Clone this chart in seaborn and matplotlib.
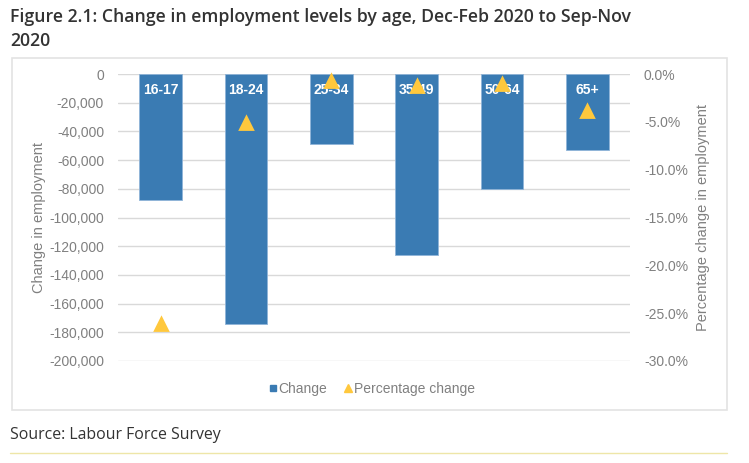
import matplotlib
matplotlib.use("Agg")
import matplotlib.pyplot as plt
import matplotlib.ticker as mticker
from matplotlib.lines import Line2D
from matplotlib.patches import Rectangle
import seaborn as sns
import pandas as pd

# ---- data ----
age_groups = ["16-17", "18-24", "25-34", "35-49", "50-64", "65+"]
change = [-88000, -174000, -49000, -126000, -80000, -53000]
pct_change = [-26.1, -5.1, -0.7, -1.3, -1.0, -3.9]
left_ticks = [0, -20000, -40000, -60000, -80000, -100000, -120000,
              -140000, -160000, -180000, -200000]
right_ticks = [0, -5, -10, -15, -20, -25, -30]

df = pd.DataFrame({"age": age_groups, "change": change, "pct": pct_change})

BLUE = "#3A7BB3"
YELLOW = "#FFC83D"
GRAY = "#808080"
GRID = "#D9D9D9"

sns.set_theme(style="white")
plt.rcParams["font.family"] = ["Liberation Sans", "DejaVu Sans"]

W, H = 749, 463
fig = plt.figure(figsize=(W / 100, H / 100), dpi=100)

# chart frame
fig.patches.append(Rectangle((12 / W, 1 - 410 / H), (727 - 12) / W, (410 - 58) / H,
                             transform=fig.transFigure, fill=False,
                             edgecolor="#E3E3E3", linewidth=1.2))
# bottom decorative line
fig.add_artist(Line2D([10 / W, 727 / W], [1 - 453 / H, 1 - 453 / H],
                      transform=fig.transFigure, color="#EEE6A8", linewidth=1))

ax = fig.add_axes([118 / W, 1 - 361 / H, (630 - 118) / W, (361 - 74) / H])
sns.barplot(data=df, x="age", y="change", color=BLUE, width=0.5, ax=ax,
            edgecolor="#8FB4D8", linewidth=0.6, saturation=1)
ax.set_ylim(-200000, 0)
ax.set_xlim(-0.5, len(age_groups) - 0.5)
ax.set_yticks(left_ticks)
ax.yaxis.set_major_formatter(mticker.FuncFormatter(
    lambda v, p: "0" if v == 0 else "-{:,.0f}".format(abs(v))))
ax.set_axisbelow(True)
ax.grid(axis="y", color=GRID, linewidth=1)
ax.set_xticks([])
ax.set_xlabel("")
ax.set_ylabel("Change in employment", color=GRAY, fontsize=10.5, labelpad=2)
ax.tick_params(axis="y", colors=GRAY, labelsize=10, length=0, pad=10)
for s in ax.spines.values():
    s.set_visible(False)

# category labels inside top of bars
for i, lab in enumerate(age_groups):
    ax.annotate(lab, xy=(i, 0), xytext=(0, -6.5), textcoords="offset points",
                ha="center", va="top", color="white", fontsize=10,
                fontweight="bold")

ax2 = ax.twinx()
sns.pointplot(data=df, x="age", y="pct", ax=ax2, color=YELLOW, markers="^",
              linestyle="none", errorbar=None, markersize=8)
for coll in ax2.lines + ax2.collections:
    coll.set_clip_on(False)
ax2.set_ylim(-30, 0)
ax2.set_xlim(-0.5, len(age_groups) - 0.5)
ax2.set_yticks(right_ticks)
ax2.yaxis.set_major_formatter(mticker.FuncFormatter(
    lambda v, p: "0.0%" if v == 0 else "-{:.1f}%".format(abs(v))))
ax2.tick_params(axis="y", colors=GRAY, labelsize=10, length=0, pad=10)
ax2.set_ylabel("Percentage change in employment", color=GRAY, fontsize=10.5,
               labelpad=6)
ax2.set_xlabel("")
ax2.set_xticks([])
ax2.grid(False)
for s in ax2.spines.values():
    s.set_visible(False)

# legend
handles = [
    Line2D([], [], marker="s", color=BLUE, linestyle="none", markersize=5),
    Line2D([], [], marker="^", color=YELLOW, linestyle="none", markersize=5.5),
]
leg = fig.legend(handles, ["Change", "Percentage change"], loc="center",
                 bbox_to_anchor=(372 / W, 1 - 389 / H), ncol=2, frameon=False,
                 handlelength=0.5, handletextpad=0.15, columnspacing=1.3,
                 fontsize=10)
for t in leg.get_texts():
    t.set_color(GRAY)

# title and source
fig.text(10 / W, 1 - 8 / H,
         "Figure 2.1: Change in employment levels by age, Dec-Feb 2020 to Sep-Nov\n2020",
         ha="left", va="top", fontsize=12.7, color="#333333",
         family=["Open Sans", "DejaVu Sans"], fontweight="semibold",
         linespacing=1.45)
fig.text(10 / W, 1 - 435 / H, "Source: Labour Force Survey", ha="left",
         va="center", fontsize=11.4, color="#333333",
         family=["Open Sans", "DejaVu Sans"])

fig.savefig("out.png", dpi=100)
